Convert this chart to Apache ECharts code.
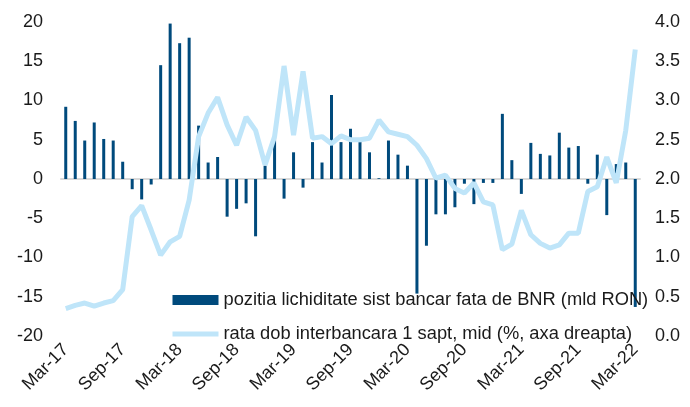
<!DOCTYPE html>
<html>
<head>
<meta charset="utf-8" />
<title>Lichiditate</title>
<script src="https://cdn.jsdelivr.net/npm/echarts@6/dist/echarts.min.js"></script>
<style>
    html, body { margin: 0; padding: 0; background: #fff; }
    #chart { width: 690px; height: 407px; }
</style>
</head>
<body>
<div id="chart"></div>
<script type="text/javascript">
// lunile, Mar-17 .. Mar-22
var months = [
    'Mar-17', 'Apr-17', 'May-17', 'Jun-17', 'Jul-17', 'Aug-17', 'Sep-17', 'Oct-17', 'Nov-17', 'Dec-17',
    'Jan-18', 'Feb-18', 'Mar-18', 'Apr-18', 'May-18', 'Jun-18', 'Jul-18', 'Aug-18', 'Sep-18', 'Oct-18', 'Nov-18', 'Dec-18',
    'Jan-19', 'Feb-19', 'Mar-19', 'Apr-19', 'May-19', 'Jun-19', 'Jul-19', 'Aug-19', 'Sep-19', 'Oct-19', 'Nov-19', 'Dec-19',
    'Jan-20', 'Feb-20', 'Mar-20', 'Apr-20', 'May-20', 'Jun-20', 'Jul-20', 'Aug-20', 'Sep-20', 'Oct-20', 'Nov-20', 'Dec-20',
    'Jan-21', 'Feb-21', 'Mar-21', 'Apr-21', 'May-21', 'Jun-21', 'Jul-21', 'Aug-21', 'Sep-21', 'Oct-21', 'Nov-21', 'Dec-21',
    'Jan-22', 'Feb-22', 'Mar-22'
];

// pozitia lichiditate (mld RON), axa stanga
var lichiditate = [
    9.2, 7.4, 4.9, 7.2, 5.1, 4.9, 2.2, -1.3, -2.6, -0.7,
    14.5, 19.8, 17.3, 18.0, 6.8, 2.1, 2.8, -4.8, -3.8, -3.1, -7.3, 1.7,
    5.3, -2.5, 3.4, -1.1, 4.7, 2.1, 10.7, 4.7, 6.4, 4.7, 3.4, 0.1,
    4.9, 3.1, 1.7, -14.6, -8.5, -4.5, -4.5, -3.6, -0.6, -3.2, -0.5, -0.5,
    8.3, 2.4, -1.9, 4.6, 3.2, 3.0, 5.9, 4.0, 4.2, -0.6, 3.1, -4.6,
    1.9, 2.1, -16.3
];

// rata dobanzii interbancare 1 sapt (%), axa dreapta
var rata = [
    0.35, 0.39, 0.42, 0.38, 0.42, 0.45, 0.59, 1.52, 1.66, 1.35,
    1.03, 1.20, 1.27, 1.73, 2.54, 2.84, 3.04, 2.69, 2.43, 2.79, 2.62, 2.18,
    2.54, 3.44, 2.56, 3.37, 2.52, 2.54, 2.45, 2.55, 2.50, 2.50, 2.52, 2.75,
    2.60, 2.57, 2.54, 2.43, 2.26, 2.01, 2.05, 1.88, 1.82, 1.95, 1.71, 1.67,
    1.10, 1.17, 1.60, 1.29, 1.18, 1.12, 1.16, 1.31, 1.31, 1.84, 1.90, 2.28,
    1.95, 2.62, 3.65
];

var leftTicks = { min: -20, max: 20, interval: 5 };
var rightTicks = { min: 0, max: 4, interval: 0.5 };

var numeLichiditate = 'pozitia lichiditate sist bancar fata de BNR (mld RON)';
var numeRata = 'rata dob interbancara 1 sapt, mid (%, axa dreapta)';

var chart = echarts.init(document.getElementById('chart'));

var option = {
    animation: false,
    textStyle: { fontFamily: 'Liberation Sans, Arial, sans-serif' },
    grid: { left: 61, right: 50, top: 22, bottom: 71 },
    legend: {
        orient: 'vertical',
        left: 165,
        top: 286,
        itemWidth: 46,
        itemHeight: 10,
        itemGap: 16,
        textStyle: { fontSize: 18.3, color: '#1a1a1a' },
        data: [
            { name: numeLichiditate, icon: 'rect' },
            { name: numeRata, itemStyle: { opacity: 0 }, lineStyle: { width: 5 } } // doar linia, fara cerc
        ]
    },
    xAxis: {
        type: 'category',
        data: months,
        boundaryGap: true,
        axisLine: { onZero: true, lineStyle: { color: '#d9d9d9', width: 2 } },
        axisTick: { interval: 5, length: 5, lineStyle: { color: '#d9d9d9', width: 2 } },
        axisLabel: {
            interval: 5,
            rotate: 45,
            margin: 11,
            fontSize: 18,
            color: '#1a1a1a'
        },
        splitLine: { show: false }
    },
    yAxis: [
        {
            type: 'value',
            min: leftTicks.min,
            max: leftTicks.max,
            interval: leftTicks.interval,
            axisLine: { show: false },
            axisTick: { show: false },
            splitLine: { show: false },
            axisLabel: { fontSize: 18, color: '#1a1a1a', margin: 18 }
        },
        {
            type: 'value',
            min: rightTicks.min,
            max: rightTicks.max,
            interval: rightTicks.interval,
            axisLine: { show: false },
            axisTick: { show: false },
            splitLine: { show: false },
            axisLabel: {
                fontSize: 18,
                color: '#1a1a1a',
                margin: 15,
                formatter: function (v) { return v.toFixed(1); }
            }
        }
    ],
    series: [
        {
            name: numeLichiditate,
            type: 'bar',
            yAxisIndex: 0,
            barWidth: 3,
            itemStyle: { color: '#004a7c' },
            data: lichiditate
        },
        {
            name: numeRata,
            type: 'line',
            yAxisIndex: 1,
            symbol: 'none',
            lineStyle: { color: '#bfe5f9', width: 5 },
            itemStyle: { color: '#bfe5f9' },
            data: rata
        }
    ]
};

chart.setOption(option);
</script>
</body>
</html>
